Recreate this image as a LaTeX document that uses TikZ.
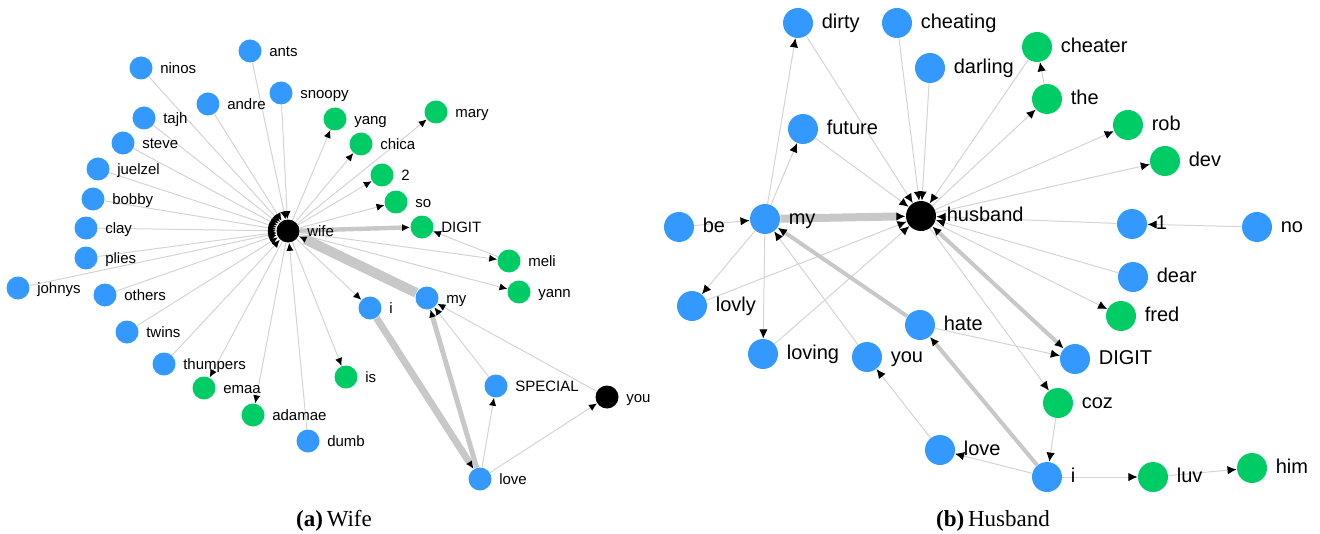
\documentclass[tikz,border=0pt]{standalone}
\usepackage{fontspec}
\setmainfont{Liberation Sans}
\newfontfamily\capfont{Liberation Serif}
\usetikzlibrary{arrows.meta, backgrounds}

\definecolor{wordblue}{RGB}{51,153,255}
\definecolor{wordgreen}{RGB}{0,204,102}
\definecolor{edgegray}{RGB}{212,212,212}
\definecolor{heavygray}{RGB}{200,200,200}

\begin{document}
\begin{tikzpicture}[
        x=0.5pt, y=-0.5pt,
        wordtip/.tip={Latex[length=4pt, width=3.6pt, color=black]},
        wdot/.style={circle, inner sep=0pt, minimum size=11.5pt},
        hdot/.style={circle, inner sep=0pt, minimum size=15pt},
        wtext/.style={anchor=west, inner sep=0pt, text height=0.75em, text depth=0.2em,
            font=\fontsize{7.5}{9}\selectfont},
        htext/.style={anchor=west, inner sep=0pt, text height=0.75em, text depth=0.2em,
            font=\fontsize{10}{12}\selectfont},
        link/.style={draw=edgegray, line width=0.5pt, -wordtip},
        heavy/.style={draw=heavygray, line width=#1, -wordtip},
        bigtips/.style={wordtip/.tip={Latex[length=4.6pt, width=4.2pt, color=black]}},
    ]

    \useasboundingbox (0,0) rectangle (1320,534);

    % wife
    \node[wdot, fill=black] (wwife) at (288,231) {};
    \node[wtext] (wwife-text) at ([xshift=3.5pt]wwife.east) {wife};
    \foreach \w/\x/\y in {ants/250/51, ninos/141/68, andre/208/104, snoopy/281/93,
        tajh/144/118, steve/123/143, juelzel/98/169, bobby/93/199, clay/86/228,
        plies/86/258, johnys/18/288, others/105/295, twins/127/332,
        thumpers/164/364, dumb/308/441, i/370/308, my/427/298,
        SPECIAL/496/386, love/480/479}
    {
        \node[wdot, fill=wordblue] (w\w) at (\x,\y) {};
        \node[wtext] (w\w-text) at ([xshift=3.5pt]w\w.east) {\w};
    }
    \foreach \w/\x/\y in {yang/335/119, mary/436/112, chica/361/144, 2/382/175,
        so/396/202, DIGIT/422/227, meli/509/261, yann/519/292, is/346/377,
        emaa/204/388, adamae/253/415}
    {
        \node[wdot, fill=wordgreen] (w\w) at (\x,\y) {};
        \node[wtext] (w\w-text) at ([xshift=3.5pt]w\w.east) {\w};
    }
    \node[wdot, fill=black] (wyou) at (607,397) {};
    \node[wtext] (wyou-text) at ([xshift=3.5pt]wyou.east) {you};

    \begin{scope}[on background layer]
        \foreach \w in {ants, ninos, andre, snoopy, tajh, steve, juelzel, bobby,
            clay, plies, johnys, others, twins, thumpers, dumb}
            \draw[link] (w\w) -- (wwife);
        \foreach \w in {yang, mary, chica, 2, so, meli, yann, is, emaa, adamae, i}
            \draw[link] (wwife) -- (w\w);
        \draw[heavy=2.2pt] (wwife) -- (wDIGIT);
        \draw[heavy=5pt] (wmy) -- (wwife);
        \draw[link] (wmeli) -- (wDIGIT);
        \draw[heavy=3.5pt] (wi) -- (wlove);
        \draw[heavy=2.5pt] (wlove) -- (wmy);
        \draw[link] (wlove) -- (wSPECIAL);
        \draw[link] (wSPECIAL) -- (wmy);
        \draw[link] (wlove) -- (wyou);
        \draw[link] (wyou) -- (wmy);
    \end{scope}

    % husband
    \node[hdot, fill=black] (hhusband) at (921,216) {};
    \node[htext] (hhusband-text) at ([xshift=5pt]hhusband.east) {husband};
    \foreach \w/\x/\y in {dirty/798/23, cheating/897/23, darling/930/68,
        future/803/129, be/679/227, my/765/219, lovly/692/306, loving/763/354,
        you/867/357, hate/920/325, love/940/450, 1/1132/224, no/1257/227,
        dear/1133/277, DIGIT/1075/359, i/1047/477}
    {
        \node[hdot, fill=wordblue] (h\w) at (\x,\y) {};
        \node[htext] (h\w-text) at ([xshift=4pt]h\w.east) {\w};
    }
    \foreach \w/\x/\y in {cheater/1037/47, the/1047/99, rob/1128/125,
        dev/1165/161, fred/1121/316, coz/1058/403, luv/1153/477, him/1252/468}
    {
        \node[hdot, fill=wordgreen] (h\w) at (\x,\y) {};
        \node[htext] (h\w-text) at ([xshift=4pt]h\w.east) {\w};
    }

    \begin{scope}[on background layer, bigtips]
        \foreach \w in {dirty, cheating, darling, future, cheater, lovly, loving, 1, dear}
            \draw[link] (h\w) -- (hhusband);
        \foreach \w in {the, rob, dev, fred, coz}
            \draw[link] (hhusband) -- (h\w);
        \foreach \w in {dirty, future, lovly, loving}
            \draw[link] (hmy) -- (h\w);
        \draw[heavy=4pt] (hmy) -- (hhusband);
        \draw[heavy=2pt, wordtip-wordtip] (hhusband) -- (hDIGIT);
        \draw[link] (hbe) -- (hmy);
        \draw[link] (hno) -- (h1);
        \draw[link] (hthe) -- (hcheater);
        \draw[link] (hyou) -- (hmy);
        \draw[heavy=2pt] (hhate) -- (hmy);
        \draw[link] (hhate) -- (hDIGIT);
        \draw[heavy=2pt] (hi) -- (hhate);
        \draw[link] (hcoz) -- (hi);
        \draw[link] (hi) -- (hluv);
        \draw[link] (hluv) -- (hhim);
        \draw[link] (hi) -- (hlove);
        \draw[link] (hlove) -- (hyou);
    \end{scope}

    % captions
    \node[font=\capfont\fontsize{11.5}{14}\selectfont] (capwife) at (334,521) {\textbf{(a)}\,Wife};
    \node[font=\capfont\fontsize{11.5}{14}\selectfont] (caphusband) at (993,521) {\textbf{(b)}\,Husband};
\end{tikzpicture}
\end{document}
